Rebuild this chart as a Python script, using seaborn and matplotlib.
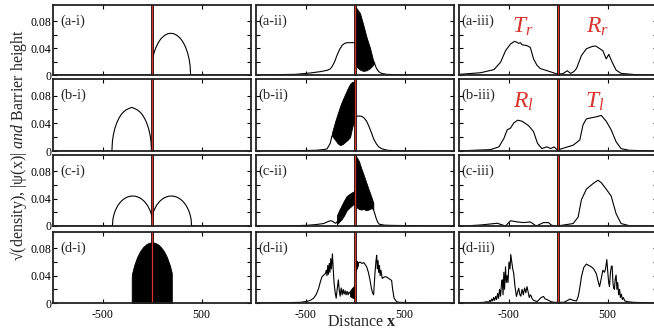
import matplotlib
matplotlib.use("Agg")
import matplotlib.pyplot as plt
import matplotlib.transforms as mtransforms
import seaborn as sns

# ---------------- data ----------------
# column i : initial states
ai_x = [-1000, 5, 5, 20, 40, 60, 80, 100, 130, 160, 190, 220, 250, 280, 300, 320, 340, 360, 375, 385, 390, 1000]
ai_y = [0, 0, .0236, .0327, .041, .0471, .0518, .0554, .0591, .0613, .062, .0613, .0591, .0554, .0518, .0471, .041, .0327, .0236, .0138, 0, 0]

bi_x = [-1000, -405, -400, -390, -375, -355, -335, -315, -295, -265, -235, -205, -175, -145, -115, -95, -75, -55, -35, -20, -10, -5, 1000]
bi_y = [0, 0, .0138, .0236, .0327, .041, .0471, .0518, .0554, .0591, .0613, .063, .0613, .0591, .0554, .0518, .0471, .041, .0327, .0236, .0138, 0, 0]

ci_x = [-1000, -400, -395, -385, -370, -345, -315, -285, -255, -225, -195, -165, -135, -105, -75, -45, -20, -5, 0,
        5, 20, 45, 75, 105, 135, 165, 195, 225, 255, 285, 315, 345, 370, 385, 395, 400, 1000]
ci_y = [0, 0, .0097, .0165, .0229, .030, .0357, .0395, .0421, .0435, .044, .0435, .0421, .0395, .0357, .030, .0229, .0165, .0136,
        .0165, .0229, .030, .0357, .0395, .0421, .0435, .044, .0435, .0421, .0395, .0357, .030, .0229, .0165, .0097, 0, 0]

di_x = [-205, -200, -180, -150, -120, -90, -60, -30, 0, 30, 60, 90, 120, 150, 180, 200]
di_top = [.038, .044, .0554, .0675, .076, .0819, .0859, .0882, .089, .0882, .0859, .0819, .076, .0675, .0554, .044]
di_low = [0, 0, 0, 0, 0, 0, 0, 0, 0, 0, 0, 0, 0, 0, 0, 0]

# column ii : during collision
aii_x = [-1000, -600, -450, -350, -280, -250, -230, -205, -180, -155, -130, -105, -80, -40, -3]
aii_y = [0, .001, .003, .005, .007, .009, .013, .020, .030, .038, .044, .047, .048, .048, .048]
aii_bx = [3, 17, 50, 83, 117, 150, 183, 195]
aii_btop = [.1, .099, .092, .075, .056, .041, .022, .018]
aii_blow = [.02, .012, .008, .006, .007, .010, .015, .018]
aii_tx = [195, 217, 240, 267, 320, 400, 1000]
aii_ty = [.018, .0097, .005, .0024, .001, .0005, 0]

bii_x = [-1000, -600, -400, -320, -283, -250, -233]
bii_y = [0, .0005, .001, .002, .003, .011, .022]
bii_bx = [-233, -200, -175, -150, -125, -100, -75, -50, -27, -3]
bii_btop = [.026, .043, .054, .065, .074, .082, .090, .097, .100, .100]
bii_blow = [.022, .016, .011, .0085, .010, .013, .016, .020, .035, .045]
bii_rx = [3, 40, 67, 90, 117, 140, 167, 190, 217, 240, 267, 300, 333, 400, 1000]
bii_ry = [.050, .0505, .050, .048, .043, .036, .026, .017, .010, .006, .0035, .002, .001, .0005, 0]

cii_x = [-1000, -600, -483, -400, -317, -280, -250, -225, -210, -195, -183]
cii_y = [0, .0005, .001, .002, .0036, .006, .0077, .007, .005, .004, .006]
cii_lbx = [-183, -160, -133, -108, -83, -55, -23, -3]
cii_lbtop = [.0155, .023, .031, .038, .044, .047, .050, .051]
cii_lblow = [.0026, .006, .0103, .016, .023, .027, .031, .033]
cii_rbx = [3, 20, 40, 62, 87, 112, 137, 162, 185]
cii_rbtop = [.104, .100, .095, .085, .075, .0645, .054, .044, .034]
cii_rblow = [.030, .027, .025, .024, .025, .023, .024, .026, .025]
cii_tx = [185, 200, 212, 228, 245, 300, 400, 1000]
cii_ty = [.025, .018, .012, .006, .0026, .0012, .0008, 0]

dii_x = [-1000, -700, -550, -483, -450, -417, -390, -367, -350, -333, -315, -300, -290, -283, -275, -268, -260, -253,
         -245, -238, -228, -220, -212, -200, -190, -180, -168, -160, -150, -140, -130, -120, -110, -100, -90, -80, -70, -60, -50]
dii_y = [0, .0005, .001, .0024, .004, .0072, .013, .0217, .031, .0386, .041, .043, .048, .040, .055, .042, .058, .045,
         .065, .050, .072, .050, .030, .015, .007, .020, .034, .020, .010, .022, .012, .020, .013, .018, .012, .017, .012, .016, .014]
dii_lbx = [-50, -30, -10, -3]
dii_lbtop = [.018, .022, .025, .026]
dii_lblow = [.010, .008, .007, .007]
dii_rbx = [3, 15, 30]
dii_rbtop = [.063, .062, .060]
dii_rblow = [.046, .050, .055]
dii_rx = [30, 50, 70, 90, 118, 135, 151, 165, 178, 188, 200, 212, 219, 226, 233, 240, 247, 254, 262, 275,
          295, 312, 330, 350, 370, 380, 395, 420, 445, 600, 1000]
dii_ry = [.058, .060, .058, .059, .053, .045, .034, .022, .0145, .012, .040, .062, .070, .050, .062, .045, .055, .040, .048, .036,
          .038, .0386, .037, .035, .033, .020, .007, .002, .001, .0005, 0]

# column iii : after collision
aiii_x = [-1000, -947, -780, -647, -580, -530, -480, -440, -420, -397, -380, -363, -313, -280, -247, -213, -180, -130, -47, -3,
          20, 53, 93, 127, 160, 187, 237, 287, 320, 353, 380, 403, 453, 487, 513, 547, 587, 637, 787, 1000]
aiii_y = [.001, .0015, .0034, .008, .019, .036, .046, .050, .049, .047, .048, .045, .0436, .041, .024, .0146, .0097, .0073, .0034, .001,
          .0015, .0022, .0063, .0024, .005, .0097, .029, .039, .041, .0427, .043, .041, .036, .024, .0306, .019, .0073, .0024, .0005, 0]

biii_x = [-1000, -947, -680, -597, -547, -513, -480, -447, -407, -363, -297, -247, -207, -163, -113, -73, -40, -3,
          20, 153, 220, 253, 287, 337, 387, 437, 487, 537, 587, 637, 720, 1000]
biii_y = [0, .0005, .002, .006, .018, .0306, .033, .0405, .0445, .043, .0366, .028, .011, .0035, .006, .0035, .006, .001,
          .0025, .0084, .0158, .038, .0464, .048, .0494, .0514, .043, .0306, .0133, .0035, .001, 0]

ciii_x = [-1000, -947, -780, -613, -530, -480, -413, -347, -280, -220, -147, -97, -63, -3,
          37, 153, 203, 237, 287, 353, 403, 437, 487, 537, 587, 637, 720, 1000]
ciii_y = [0, 0, .0015, .004, 0, .0077, .006, .005, .006, 0, .005, .005, .001, 0,
          .001, .0036, .013, .0387, .054, .062, .067, .0635, .054, .0439, .018, .0036, .0005, 0]

diii_x = [-1000, -800, -747, -720, -700, -690, -680, -670, -660, -650, -640, -630, -620, -610, -600, -590, -580, -570,
          -563, -555, -547, -540, -530, -522, -513, -505, -495, -485, -477, -467, -457, -447, -435, -420, -410, -397,
          -385, -375, -363, -350, -338, -325, -313, -300, -290, -280, -270, -260, -247, -230, -213, -190, -170, -147,
          -130, -110, -97, -70, -40, 0,
          60, 100, 120, 150, 187, 205, 220, 237, 260, 287, 310, 337, 360, 387, 405, 420, 437, 453, 470, 480, 493,
          503, 512, 520, 530, 540, 547, 555, 562, 570, 578, 587, 595, 603, 613, 622, 630, 640, 650, 660, 675,
          700, 760, 1000]
diii_y = [0, .0005, .001, .002, .001, .004, .002, .006, .003, .008, .004, .0096, .005, .014, .007, .020, .010, .030,
          .034, .012, .045, .020, .053, .030, .040, .030, .060, .050, .071, .060, .050, .043, .025, .0096, .015, .0217,
          .012, .010, .020, .012, .022, .015, .024, .015, .008, .012, .010, .006, .004, .003, .002, .005, .008, .0096,
          .006, .005, .004, .002, .001, .001,
          .001, .004, .0058, .004, .003, .010, .022, .0386, .052, .057, .055, .053, .050, .043, .032, .024, .036, .048, .045, .050, .0636,
          .045, .030, .024, .045, .054, .054, .030, .022, .020, .035, .041, .020, .030, .012, .020, .008, .013, .005, .008, .003,
          .002, .001, 0]

barrier_x = [-11, 11]
barrier_h = 0.3

panel_labels = [["(a-i)", "(a-ii)", "(a-iii)"],
                ["(b-i)", "(b-ii)", "(b-iii)"],
                ["(c-i)", "(c-ii)", "(c-iii)"],
                ["(d-i)", "(d-ii)", "(d-iii)"]]
xticks = [-500, 0, 500]
xticklabels = ["-500", "", "500"]
yticks = [0, 0.02, 0.04, 0.06, 0.08]
yticklabels = ["0", "", "0.04", "", "0.08"]

# ---------------- style ----------------
sns.set_theme(style="ticks")
plt.rcParams['font.family'] = ['Liberation Serif', 'DejaVu Serif']
plt.rcParams['mathtext.fontset'] = 'custom'
plt.rcParams['mathtext.rm'] = 'Liberation Serif'
plt.rcParams['mathtext.it'] = 'Liberation Serif:italic'
plt.rcParams['mathtext.bf'] = 'Liberation Serif:bold'

RED = '#d9342b'
W, H = 654, 331
fig = plt.figure(figsize=(W / 100, H / 100), dpi=100)

col_left = [53, 256, 459]
col_w = 198
row_top = [5, 79, 155, 232]
row_h = [70, 72, 71, 71]
label_off = [0.035, 0.012, 0.012]

lines = {
    (0, 0): [(ai_x, ai_y)],
    (1, 0): [(bi_x, bi_y)],
    (2, 0): [(ci_x, ci_y)],
    (3, 0): [],
    (0, 1): [(aii_x, aii_y), (aii_tx, aii_ty)],
    (1, 1): [(bii_x, bii_y), (bii_rx, bii_ry)],
    (2, 1): [(cii_x, cii_y), (cii_tx, cii_ty)],
    (3, 1): [(dii_x, dii_y), (dii_rx, dii_ry)],
    (0, 2): [(aiii_x, aiii_y)],
    (1, 2): [(biii_x, biii_y)],
    (2, 2): [(ciii_x, ciii_y)],
    (3, 2): [(diii_x, diii_y)],
}
bands = {
    (3, 0): [(di_x, di_low, di_top)],
    (0, 1): [(aii_bx, aii_blow, aii_btop)],
    (1, 1): [(bii_bx, bii_blow, bii_btop)],
    (2, 1): [(cii_lbx, cii_lblow, cii_lbtop), (cii_rbx, cii_rblow, cii_rbtop)],
    (3, 1): [(dii_lbx, dii_lblow, dii_lbtop), (dii_rbx, dii_rblow, dii_rbtop)],
}

for r in range(4):
    for c in range(3):
        rect = [col_left[c] / W, 1 - (row_top[r] + row_h[r]) / H, col_w / W, row_h[r] / H]
        ax = fig.add_axes(rect)
        ax.set_facecolor('white')
        for (xs, ys) in lines.get((r, c), []):
            sns.lineplot(x=xs, y=ys, ax=ax, color='black', lw=0.8, sort=False, estimator=None, zorder=2)
        for (xs, lo, hi) in bands.get((r, c), []):
            ax.fill_between(xs, lo, hi, color='black', lw=0.6, zorder=2)
        ax.fill_between(barrier_x, [0, 0], [barrier_h, barrier_h], facecolor=RED, edgecolor='black', lw=0.55, zorder=4)
        ax.set_xlim(-1000, 1000)
        ax.set_ylim(0, 0.104)
        ax.set_xticks(xticks)
        ax.set_yticks(yticks)
        if r == 3:
            ax.set_xticklabels(xticklabels)
        else:
            ax.set_xticklabels([])
        if c == 0:
            ax.set_yticklabels(yticklabels)
        else:
            ax.set_yticklabels([])
        ax.tick_params(direction='in', top=True, right=True, length=3, width=0.8,
                       labelsize=8.5, colors='black')
        ax.tick_params(axis='y', pad=1)
        ax.tick_params(axis='x', pad=4)
        for s in ax.spines.values():
            s.set_linewidth(1.3)
            s.set_color('#222222')
            s.set_zorder(5)
        trans = mtransforms.blended_transform_factory(ax.transAxes, ax.transData)
        ax.text(label_off[c], 0.08, panel_labels[r][c], transform=trans, fontsize=10.5,
                va='center', ha='left', zorder=6)
        ax.set_xlabel('')
        ax.set_ylabel('')
        if (r, c) == (0, 2):
            ax.text(-360, 0.063, r'$T_r$', color=RED, fontsize=17, ha='center', va='baseline')
            ax.text(400, 0.063, r'$R_r$', color=RED, fontsize=17, ha='center', va='baseline')
        if (r, c) == (1, 2):
            ax.text(-350, 0.062, r'$R_l$', color=RED, fontsize=17, ha='center', va='baseline')
            ax.text(370, 0.062, r'$T_l$', color=RED, fontsize=17, ha='center', va='baseline')

fig.text(19 / W, 1 - 145 / H, r'√(density), |ψ(x)| $\mathit{and}$ Barrier height',
         rotation=90, ha='center', va='center', fontsize=11.5)
fig.text(362 / W, 1 - 322 / H, r'Distance $\mathbf{x}$', ha='center', va='center', fontsize=11.5)

fig.savefig('out.png', dpi=100)
